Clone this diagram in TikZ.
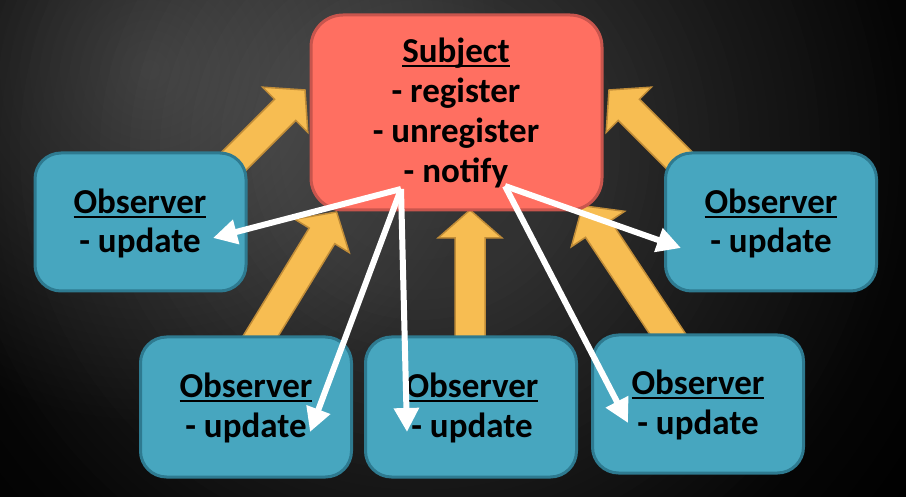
\documentclass[tikz,border=0pt]{standalone}
\usepackage{fontspec}
\setmainfont{Carlito}
\usetikzlibrary{calc,arrows.meta}
\definecolor{subjfill}{HTML}{FF6F61}
\definecolor{subjline}{HTML}{C8554D}
\definecolor{obsfill}{HTML}{47A6BF}
\definecolor{obsline}{HTML}{2E7A90}
\definecolor{yfill}{HTML}{F7BD52}
\definecolor{yline}{HTML}{C08C38}
\newcommand{\myul}[1]{\setbox0=\hbox{#1}\rlap{\rule[-4.5pt]{\wd0}{2.5pt}}\box0}
\newcommand{\yarrow}[3]{%
  \coordinate (#3) at ($(#2)!28pt!(#1)$);
  \draw[yarr] ($(#1)!15pt!90:(#2)$) -- ($(#3)!15pt!90:(#2)$) -- ($(#3)!32pt!90:(#2)$) -- (#2) -- ($(#3)!32pt!-90:(#2)$) -- ($(#3)!15pt!-90:(#2)$) -- ($(#1)!15pt!-90:(#2)$) -- cycle;}
\tikzset{
  subjbox/.style={draw=subjline, fill=subjfill, line width=3pt, rounded corners=32pt, inner sep=0pt, outer sep=0pt},
  obsbox/.style={draw=obsline, fill=obsfill, line width=3pt, rounded corners=26pt, minimum width=211pt, minimum height=138pt, inner sep=0pt, outer sep=0pt},
  lbl/.style={anchor=base, inner sep=0pt, font=\fontsize{35}{40}\selectfont\bfseries, text=black},
  notif/.style={draw=white, line width=6pt, -{Triangle[length=24pt,width=24pt]}},
  yarr/.style={fill=yfill, draw=yline, line width=1.5pt, line join=miter},
}
\begin{document}
\begin{tikzpicture}[x=1pt,y=-1pt]
\useasboundingbox (0,0) rectangle (906,497);
\begin{scope}
  \clip (0,0) rectangle (906,497);
  \fill[black] (0,0) rectangle (906,497);
  \foreach \r in {600,590,...,10} {
    \pgfmathsetmacro\g{ifthenelse(\r<150, 0.21-0.02*\r/150, ifthenelse(\r<310, 0.19-0.085*(\r-150)/160, ifthenelse(\r<500, 0.105-0.085*(\r-310)/190, max(0,0.02-0.02*(\r-500)/100))))}
    \definecolor{bgtmp}{gray}{\g}
    \fill[bgtmp] (420,150) circle (\r);
  }
  \foreach \r in {350,340,...,10} {
    \fill[white, opacity=0.0065] (150,70) circle (\r);
  }
\end{scope}
% yellow block arrows (observers -> subject)
\coordinate (a1t) at (175,220);   \coordinate (a1p) at (305,90);
\coordinate (a2t) at (739,220);   \coordinate (a2p) at (609,90);
\coordinate (a3t) at (243.5,364); \coordinate (a3p) at (336.6,212);
\coordinate (a4t) at (470,380);   \coordinate (a4p) at (470,210);
\coordinate (a5t) at (681,354);   \coordinate (a5p) at (582.5,205.7);
\yarrow{a1t}{a1p}{a1b}
\yarrow{a2t}{a2p}{a2b}
\yarrow{a3t}{a3p}{a3b}
\yarrow{a4t}{a4p}{a4b}
\yarrow{a5t}{a5p}{a5b}
% boxes
\node[subjbox, minimum width=291pt, minimum height=195pt] (subj) at (456.5,112.5) {};
\node[obsbox] (o1) at (140.5,222) {};
\node[obsbox] (o2) at (771,222) {};
\node[obsbox, minimum height=140pt] (o3) at (246,407) {};
\node[obsbox, minimum height=140pt] (o4) at (471,407) {};
\node[obsbox] (o5) at (698,404) {};
% texts
\node[lbl] (s1) at (456,63) {\myul{Subject}};
\node[lbl] (s2) at (456,103) {- register};
\node[lbl] (s3) at (456,143) {- unregister};
\node[lbl] (s4) at (456,183) {- notify};
\node[lbl] (o1a) at (140,214) {\myul{Observer}};
\node[lbl] (o1b) at (140,253) {- update};
\node[lbl] (o2a) at (771,214) {\myul{Observer}};
\node[lbl] (o2b) at (771,253) {- update};
\node[lbl] (o3a) at (246,398) {\myul{Observer}};
\node[lbl] (o3b) at (246,437) {- update};
\node[lbl] (o4a) at (472,398) {\myul{Observer}};
\node[lbl] (o4b) at (472,437) {- update};
\node[lbl] (o5a) at (698,395) {\myul{Observer}};
\node[lbl] (o5b) at (698,434) {- update};
% white notify arrows
\coordinate (nl) at (401,189);
\coordinate (nr) at (505,186);
\coordinate (t1) at (213,238);
\coordinate (t2) at (681,248);
\coordinate (t3) at (310,432);
\coordinate (t4) at (407,432);
\coordinate (t5) at (628,423);
\draw[notif] (nl) -- (t1);
\draw[notif] (nl) -- (t3);
\draw[notif] (nl) -- (t4);
\draw[notif] (nr) -- (t2);
\draw[notif] (nr) -- (t5);
\end{tikzpicture}
\end{document}
